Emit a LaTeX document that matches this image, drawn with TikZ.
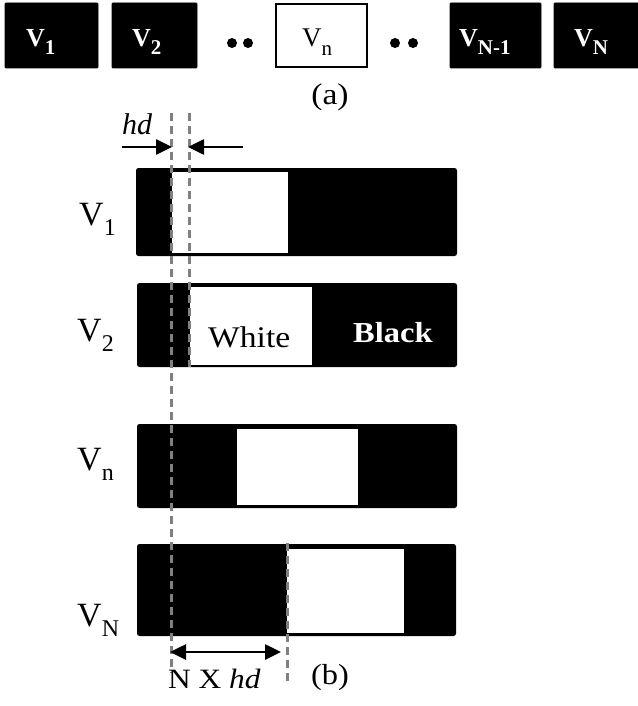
\documentclass[tikz,border=0pt]{standalone}
\usepackage{fontspec}
\setmainfont{Liberation Serif}
\usetikzlibrary{arrows.meta}
\newcommand{\mysub}[2]{\raisebox{-0.3em}{\fontsize{#1}{#1}\selectfont #2}}
\tikzset{
  topbox/.style={fill=black, draw=black, line width=0.8pt, rounded corners=1pt},
  bar/.style={fill=black, rounded corners=2.5pt},
  win/.style={fill=white},
  guide/.style={draw=gray, line width=3pt, dash pattern=on 8pt off 5pt},
  toplab/.style={anchor=base west, text=white, font=\fontsize{26}{26}\selectfont\bfseries, inner sep=0pt, xscale=1.0},
  sidelab/.style={anchor=base west, font=\fontsize{34}{34}\selectfont, inner sep=0pt},
  txt/.style={inner sep=0pt, xscale=1.12},
  arr/.style={line width=2.6pt, -{Triangle[length=16pt,width=15pt]}},
  darr/.style={line width=2.6pt, {Triangle[length=16pt,width=15pt]}-{Triangle[length=16pt,width=15pt]}},
  dot/.style={circle, fill=black, minimum size=10pt, inner sep=0pt}
}
\begin{document}
\begin{tikzpicture}[x=1pt,y=-1pt]
\useasboundingbox (0,0) rectangle (637,706);
% (a) row
\draw[topbox] (5,3) rectangle (98,68);
\draw[topbox] (112,3) rectangle (197,68);
\draw[line width=2.5pt] (276,4) rectangle (367,67);
\draw[topbox] (450,3) rectangle (541,68);
\draw[topbox] (554,3) rectangle (640,68);
\node[toplab] (t1) at (26,47) {V\mysub{21}{1}};
\node[toplab] (t2) at (132,47) {V\mysub{21}{2}};
\node[anchor=base west, font=\fontsize{27}{27}\selectfont, inner sep=0pt] (tn) at (302,47) {V\mysub{21}{n}};
\node[toplab] (tm) at (459,47) {V\mysub{21}{N-1}};
\node[toplab] (tN) at (574,47) {V\mysub{21}{N}};
\node[dot] (d1) at (232,43) {};
\node[dot] (d2) at (248,43) {};
\node[dot] (d3) at (395,43) {};
\node[dot] (d4) at (413,43) {};
\node[txt, font=\fontsize{30}{30}\selectfont] (la) at (330,97) {(a)};
% (b) bars
\fill[bar] (136,168) rectangle (457,256);
\fill[win] (172,172) rectangle (288,253);
\fill[bar] (137,283) rectangle (457,367);
\fill[win] (190,287) rectangle (312,365);
\fill[bar] (137,424) rectangle (457,508);
\fill[win] (237,429) rectangle (358,505);
\fill[bar] (137,544) rectangle (456,636);
\fill[win] (287,549) rectangle (404,633);
\node[sidelab] (s1) at (79,225) {V\mysub{24}{1}};
\node[sidelab] (s2) at (77,341) {V\mysub{24}{2}};
\node[sidelab] (sn) at (77,470) {V\mysub{24}{n}};
\node[sidelab] (sN) at (77,626) {V\mysub{24}{N}};
\node[anchor=base west, txt, font=\fontsize{30}{30}\selectfont] (w) at (208,347) {White};
\node[anchor=base west, txt, text=white, font=\fontsize{29}{29}\selectfont\bfseries] (b) at (353,342) {Black};
% dashed guides
\coordinate (g1t) at (171,113);
\coordinate (g1b) at (171,673);
\coordinate (g2t) at (189,113);
\coordinate (g2b) at (189,367);
\coordinate (g3t) at (287,543);
\coordinate (g3b) at (287,684);
\draw[guide] (g1t) -- (g1b);
\draw[guide] (g2t) -- (g2b);
\draw[guide] (g3t) -- (g3b);
% hd arrows
\coordinate (h1) at (122,147);
\coordinate (h2) at (172,147);
\coordinate (h3) at (243,147);
\coordinate (h4) at (188,147);
\draw[arr] (h1) -- (h2);
\draw[arr] (h3) -- (h4);
\node[anchor=base west, inner sep=0pt, font=\fontsize{30}{30}\selectfont\itshape] (hd) at (122,135) {hd};
% N x hd
\coordinate (n1) at (170,652);
\coordinate (n2) at (281,652);
\draw[darr] (n1) -- (n2);
\node[anchor=base west, txt, font=\fontsize{28}{28}\selectfont] (nx) at (168,688) {N X \textit{hd}};
\node[txt, font=\fontsize{29}{29}\selectfont] (lb) at (330,678) {(b)};
\end{tikzpicture}
\end{document}
